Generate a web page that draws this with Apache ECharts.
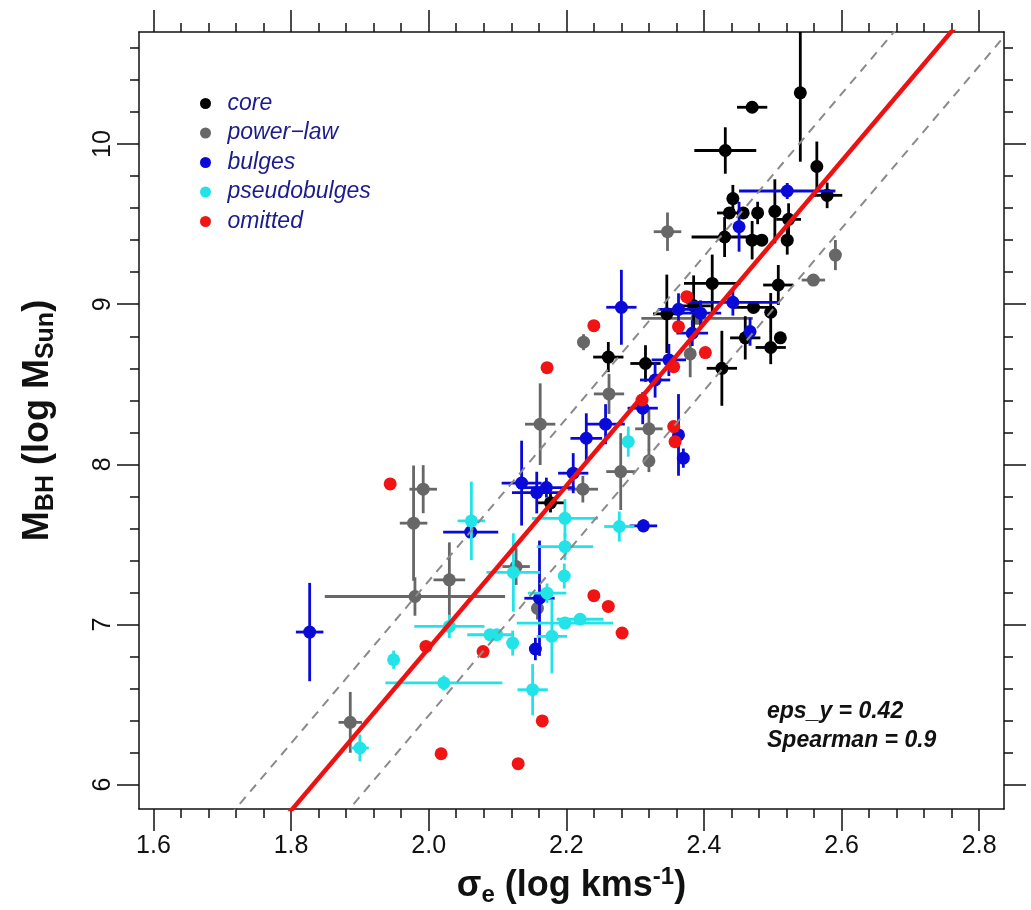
<!DOCTYPE html>
<html>
<head>
<meta charset="utf-8">
<script src="https://cdn.jsdelivr.net/npm/echarts@6/dist/echarts.min.js"></script>
<style>
  html, body { margin: 0; padding: 0; background: #ffffff; }
  #chart { width: 1031px; height: 910px; }
</style>
</head>
<body>
<div id="chart"></div>
<script>
// ---- data: [log sigma_e, log M_BH, err(log sigma), err(log M)] ----
const core = [
  [2.540, 10.32, 0.000, 0.430],
  [2.470, 10.23, 0.022, 0.000],
  [2.431, 9.96, 0.045, 0.145],
  [2.564, 9.86, 0.000, 0.156],
  [2.579, 9.68, 0.022, 0.080],
  [2.442, 9.66, 0.000, 0.085],
  [2.437, 9.57, 0.018, 0.000],
  [2.457, 9.57, 0.000, 0.000],
  [2.478, 9.57, 0.000, 0.070],
  [2.503, 9.58, 0.000, 0.200],
  [2.523, 9.53, 0.018, 0.100],
  [2.430, 9.42, 0.048, 0.125],
  [2.470, 9.40, 0.000, 0.120],
  [2.484, 9.40, 0.000, 0.000],
  [2.521, 9.40, 0.000, 0.090],
  [2.412, 9.13, 0.041, 0.180],
  [2.508, 9.12, 0.022, 0.125],
  [2.472, 8.98, 0.030, 0.000],
  [2.497, 8.95, 0.000, 0.120],
  [2.346, 8.94, 0.020, 0.245],
  [2.385, 8.99, 0.025, 0.190],
  [2.460, 8.79, 0.022, 0.135],
  [2.511, 8.79, 0.000, 0.000],
  [2.497, 8.73, 0.022, 0.104],
  [2.426, 8.60, 0.022, 0.234],
  [2.261, 8.67, 0.022, 0.094],
  [2.315, 8.63, 0.022, 0.114],
  [2.177, 7.76, 0.020, 0.060]
];
const powerLaw = [
  [1.992, 7.845, 0.020, 0.150],
  [1.978, 7.633, 0.020, 0.360],
  [1.980, 7.175, 0.131, 0.120],
  [2.030, 7.279, 0.023, 0.234],
  [2.162, 8.251, 0.022, 0.255],
  [2.127, 7.362, 0.020, 0.115],
  [2.158, 7.101, 0.000, 0.070],
  [1.886, 6.389, 0.017, 0.190],
  [2.224, 7.845, 0.022, 0.083],
  [2.279, 7.955, 0.021, 0.240],
  [2.262, 8.440, 0.022, 0.125],
  [2.320, 8.222, 0.020, 0.135],
  [2.320, 8.022, 0.000, 0.070],
  [2.225, 8.763, 0.000, 0.050],
  [2.347, 9.453, 0.020, 0.120],
  [2.591, 9.307, 0.000, 0.094],
  [2.559, 9.151, 0.017, 0.000],
  [2.380, 8.690, 0.000, 0.146],
  [2.390, 8.912, 0.081, 0.000]
];
const bulges = [
  [1.827, 6.953, 0.020, 0.307],
  [2.061, 7.577, 0.040, 0.036],
  [2.135, 7.883, 0.029, 0.265],
  [2.157, 7.824, 0.036, 0.130],
  [2.171, 7.855, 0.041, 0.062],
  [2.210, 7.945, 0.022, 0.125],
  [2.229, 8.163, 0.023, 0.156],
  [2.257, 8.251, 0.028, 0.125],
  [2.312, 7.616, 0.020, 0.040],
  [2.161, 7.164, 0.022, 0.360],
  [2.155, 6.847, 0.000, 0.070],
  [2.311, 8.351, 0.022, 0.100],
  [2.329, 8.527, 0.022, 0.110],
  [2.349, 8.652, 0.025, 0.100],
  [2.280, 8.981, 0.022, 0.234],
  [2.442, 9.012, 0.068, 0.083],
  [2.363, 8.968, 0.030, 0.100],
  [2.395, 8.944, 0.030, 0.080],
  [2.383, 8.819, 0.023, 0.080],
  [2.467, 8.829, 0.000, 0.088],
  [2.521, 9.707, 0.070, 0.050],
  [2.451, 9.484, 0.000, 0.156],
  [2.363, 8.184, 0.000, 0.255],
  [2.370, 8.039, 0.000, 0.060]
];
const pseudobulges = [
  [2.062, 7.647, 0.020, 0.245],
  [2.123, 7.325, 0.039, 0.245],
  [2.198, 7.663, 0.048, 0.120],
  [2.198, 7.486, 0.041, 0.083],
  [2.197, 7.303, 0.000, 0.078],
  [2.172, 7.196, 0.028, 0.060],
  [2.198, 7.009, 0.070, 0.000],
  [2.220, 7.033, 0.034, 0.000],
  [2.179, 6.926, 0.022, 0.230],
  [2.277, 7.612, 0.022, 0.094],
  [2.290, 8.142, 0.000, 0.094],
  [2.089, 6.936, 0.033, 0.000],
  [2.099, 6.936, 0.000, 0.000],
  [2.122, 6.884, 0.000, 0.078],
  [2.030, 6.988, 0.051, 0.073],
  [1.949, 6.780, 0.000, 0.057],
  [2.022, 6.635, 0.085, 0.047],
  [2.151, 6.593, 0.022, 0.160],
  [1.900, 6.229, 0.013, 0.083]
];
const omitted = [
  [1.944, 7.878], [2.172, 8.604], [2.240, 7.180], [2.261, 7.113],
  [2.281, 6.947], [1.996, 6.863], [2.079, 6.831], [2.165, 6.398],
  [2.018, 6.193], [2.130, 6.131], [2.356, 8.236], [2.358, 8.142],
  [2.240, 8.866], [2.375, 9.047], [2.363, 8.860], [2.402, 8.698],
  [2.356, 8.610], [2.310, 8.402]
];

// fit: log M = fitIntercept + fitSlope * (log sigma - fitPivot), scatter eps_y
const fitPivot = 2.3;
const fitIntercept = 8.373;
const fitSlope = 5.07;
const epsY = 0.42;
const spearman = 0.9;

// axes
const xRange = [1.579, 2.836];
const yRange = [5.848, 10.70];
const xTicks = [1.6, 1.8, 2.0, 2.2, 2.4, 2.6, 2.8];
const yTicks = [6, 7, 8, 9, 10];

const groupNames = ['core', 'power\u2212law', 'bulges', 'pseudobulges', 'omitted'];
const groupColors = ['#000000', '#676767', '#0a0ad8', '#22e4e8', '#f01414'];

const FONT = '"Liberation Sans", Arial, Helvetica, sans-serif';

// minor ticks: 4 between major ticks
function minorTicks(majors, range) {
  const step = (majors[1] - majors[0]) / 5;
  const out = [];
  for (let v = majors[0] - 5 * step; v <= range[1] + 1e-9; v += step) {
    const r = Math.round(v * 1000) / 1000;
    if (r < range[0] || r > range[1]) continue;
    if (majors.some(m => Math.abs(m - r) < 1e-6)) continue;
    out.push(r);
  }
  return out;
}
const xMinor = minorTicks(xTicks, xRange);
const yMinor = minorTicks(yTicks, yRange);

const axisColor = '#111111';
function xAx(pos, ticks, len, main) {
  return {
    type: 'value', position: pos, min: xRange[0], max: xRange[1],
    axisLine: { show: main, lineStyle: { color: axisColor, width: 1.5 } },
    axisTick: { show: true, inside: false, length: len, customValues: ticks,
                lineStyle: { color: axisColor, width: 1.5 } },
    axisLabel: { show: false },
    splitLine: { show: false }
  };
}
function yAx(pos, ticks, len, main) {
  return {
    type: 'value', position: pos, min: yRange[0], max: yRange[1],
    axisLine: { show: main, lineStyle: { color: axisColor, width: 1.5 } },
    axisTick: { show: true, inside: false, length: len, customValues: ticks,
                lineStyle: { color: axisColor, width: 1.5 } },
    axisLabel: { show: false },
    splitLine: { show: false }
  };
}

const xBottom = xAx('bottom', xTicks, 22, true);
xBottom.axisLabel = {
  show: true, customValues: xTicks, margin: 25,
  formatter: v => v.toFixed(1),
  fontSize: 25, color: '#111', fontFamily: FONT
};
xBottom.name = '{b|\u03c3}{sub|e}{b| (log kms}{sup|-1}{b|)}';
xBottom.nameLocation = 'middle';
xBottom.nameGap = 56;
xBottom.nameTextStyle = {
  rich: {
    b: { fontSize: 36, fontWeight: 'bold', fontFamily: FONT, color: '#111', lineHeight: 42 },
    sub: { fontSize: 24, fontWeight: 'bold', fontFamily: FONT, color: '#111', lineHeight: 14, verticalAlign: 'bottom' },
    sup: { fontSize: 24, fontWeight: 'bold', fontFamily: FONT, color: '#111', lineHeight: 14, verticalAlign: 'top' }
  }
};

const yLeft = yAx('left', yTicks, 22, true);
yLeft.axisLabel = {
  show: true, customValues: yTicks, margin: 23, rotate: 90,
  fontSize: 25, color: '#111', fontFamily: FONT
};
yLeft.name = '{b|M}{sub|BH}{b| (log M}{sub|Sun}{b|)}';
yLeft.nameLocation = 'middle';
yLeft.nameRotate = 90;
yLeft.nameGap = 80;
yLeft.nameTextStyle = {
  rich: {
    b: { fontSize: 36, fontWeight: 'bold', fontFamily: FONT, color: '#111', lineHeight: 42 },
    sub: { fontSize: 25, fontWeight: 'bold', fontFamily: FONT, color: '#111', lineHeight: 14, verticalAlign: 'bottom' }
  }
};

// error bars plus filled circle for each object
function makeRender(color) {
  return function (params, api) {
    const x = api.value(0), y = api.value(1);
    const dx = api.value(2) || 0, dy = api.value(3) || 0;
    const c = api.coord([x, y]);
    const children = [];
    const lineStyle = { stroke: color, lineWidth: 2.8 };
    if (dx > 0) {
      const a = api.coord([x - dx, y]), b = api.coord([x + dx, y]);
      children.push({ type: 'line', shape: { x1: a[0], y1: a[1], x2: b[0], y2: b[1] }, style: lineStyle });
    }
    if (dy > 0) {
      const a = api.coord([x, y - dy]), b = api.coord([x, y + dy]);
      children.push({ type: 'line', shape: { x1: a[0], y1: a[1], x2: b[0], y2: b[1] }, style: lineStyle });
    }
    children.push({ type: 'circle', shape: { cx: c[0], cy: c[1], r: 6.5 }, style: { fill: color } });
    return { type: 'group', children: children };
  };
}

const groupData = [core, powerLaw, bulges, pseudobulges, omitted];
const drawOrder = [1, 0, 2, 3, 4];
const series = drawOrder.map(i => ({
  type: 'custom',
  name: groupNames[i],
  coordinateSystem: 'cartesian2d',
  xAxisIndex: 0, yAxisIndex: 0,
  clip: true,
  itemStyle: { color: groupColors[i] },
  encode: { x: 0, y: 1 },
  renderItem: makeRender(groupColors[i]),
  data: groupData[i],
  z: 3,
  silent: true
}));

// best-fit relation and its +/- eps_y band
function fitAt(x, off) { return fitIntercept + fitSlope * (x - fitPivot) + off; }
const lineX = [1.5, 2.9];
[+epsY, -epsY].forEach(off => {
  series.push({
    type: 'line', name: 'band', xAxisIndex: 0, yAxisIndex: 0,
    data: lineX.map(x => [x, fitAt(x, off)]),
    showSymbol: false, clip: true, silent: true, z: 4,
    lineStyle: { color: '#8a8a8a', width: 2, type: [9, 7] }
  });
});
series.push({
  type: 'line', name: 'fit', xAxisIndex: 0, yAxisIndex: 0,
  data: lineX.map(x => [x, fitAt(x, 0)]),
  showSymbol: false, clip: true, silent: true, z: 5,
  lineStyle: { color: '#ee1111', width: 4.5 }
});

const option = {
  backgroundColor: '#ffffff',
  animation: false,
  grid: { left: 139, right: 27, top: 32, bottom: 101, outerBoundsMode: 'none' },
  xAxis: [
    xBottom,
    xAx('bottom', xMinor, 9, false),
    xAx('top', xTicks, 22, true),
    xAx('top', xMinor, 9, false)
  ],
  yAxis: [
    yLeft,
    yAx('left', yMinor, 9, false),
    yAx('right', yTicks, 22, true),
    yAx('right', yMinor, 9, false)
  ],
  legend: {
    data: groupNames.map(n => ({ name: n, icon: 'circle' })),
    orient: 'vertical', left: 195, top: 87,
    itemWidth: 34, itemHeight: 11, itemGap: 6.5,
    selectedMode: false,
    textStyle: { fontSize: 23, fontStyle: 'italic', color: '#1c1c8c', fontFamily: FONT, lineHeight: 22 }
  },
  graphic: [
    { type: 'text', left: 767, top: 700,
      style: { text: 'eps_y = ' + epsY.toFixed(2), font: 'italic bold 23px ' + FONT, fill: '#111' } },
    { type: 'text', left: 767, top: 729,
      style: { text: 'Spearman = ' + spearman, font: 'italic bold 23px ' + FONT, fill: '#111' } }
  ],
  series: series
};

const chart = echarts.init(document.getElementById('chart'), null, { renderer: 'canvas' });
chart.setOption(option);
</script>
</body>
</html>
